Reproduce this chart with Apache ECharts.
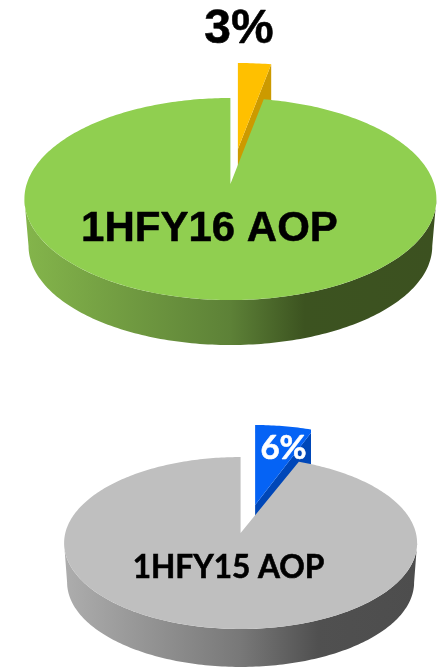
<!DOCTYPE html>
<html>
<head>
<meta charset="utf-8">
<style>html,body{margin:0;padding:0;background:#fff}#chart{width:442px;height:668px}</style>
<script src="https://cdn.jsdelivr.net/npm/echarts@6/dist/echarts.min.js"></script>
</head>
<body>
<div id="chart"></div>
<script>
// --- data ---
const periods = ['1HFY16 AOP', '1HFY15 AOP'];
const highlightShare = [3, 6];
const remainderShare = [97, 94];

// --- layout and style of each 3D pie (projective view of a tilted disc) ---
const pieViews = [
  { cx: 230.4, cy: 184, a: 203.7, b: 98.8, k: 0.1486, depthScale: 0.98, depthY: 47.3,
    offset: [7.5, -35], apexDrop: 0, clipRight: 442, top: '#90cf50',
    wallStops: [[0, '#84b54b'], [0.5, '#5d8137'], [0.68, '#3c5320'], [1, '#3c5120']],
    hiTop: '#ffc000', hiWall: '#cc9a00',
    label: { x: 209.5, y: 229, stroke: 0.5, font: 'bold 42px "Liberation Sans"' },
    hiLabel: { x: 239, y: 29.5, fill: '#000', stroke: 0.5, font: 'bold 48px "Liberation Sans"' } },
  { cx: 240.6, cy: 533, a: 175.3, b: 84.8, k: 0.1163, depthScale: 0.983, depthY: 39.6,
    offset: [14.5, -32], apexDrop: 4, clipRight: 311, top: '#bfbfbf',
    wallStops: [[0, '#adadad'], [0.5, '#787878'], [0.72, '#505050'], [1, '#4d4d4d']],
    hiTop: '#0563f5', hiWall: '#0047b8',
    label: { x: 228.5, y: 568, stroke: 0.6, font: 'bold 31.6px Lato' },
    hiLabel: { x: 283.5, y: 448, fill: '#fff', stroke: 0.6, font: 'bold 33px Lato' } }
];

const STEPS = 360;
function project(v, theta, level, shift) {
  const u = Math.sin(theta), w = Math.cos(theta), d = 1 + v.k * w;
  const s = level ? v.depthScale : 1;
  const ox = shift ? shift[0] : 0, oy = shift ? shift[1] : 0;
  return [v.cx + ox + s * v.a * u / d, v.cy + oy + (level ? v.depthY : 0) - s * v.b * w / d];
}
function arc(v, from, to, level, shift) {
  const n = Math.max(2, Math.ceil(Math.abs(to - from) / (2 * Math.PI) * STEPS));
  const pts = [];
  for (let i = 0; i <= n; i++) pts.push(project(v, from + (to - from) * i / n, level, shift));
  return pts;
}
function poly(points, fill) {
  return { type: 'polygon', shape: { points }, style: { fill, stroke: null } };
}
function label(text, cfg, fill) {
  return { type: 'text', style: { text, x: cfg.x, y: cfg.y, fill, stroke: fill, lineWidth: cfg.stroke,
    font: cfg.font, align: 'center', verticalAlign: 'middle' } };
}

function renderPie(params, api) {
  const v = pieViews[params.dataIndex];
  const hi = api.value(0), rest = api.value(1);
  const split = 2 * Math.PI * hi / (hi + rest);
  const off = v.offset;
  const apex = [v.cx + off[0], v.cy + off[1] + v.apexDrop];
  const apexLow = [apex[0], apex[1] + v.depthY];
  const cornerTop = project(v, split, 0, off);
  const cornerLow = [cornerTop[0], cornerTop[1] + v.depthY];
  const widest = Math.acos(-v.k);
  const wallPts = arc(v, widest, 2 * Math.PI - widest, 0)
    .concat(arc(v, 2 * Math.PI - widest, widest, 1));
  const stops = v.wallStops.map(s => ({ offset: s[0], color: s[1] }));
  const children = [
    { type: 'group',
      clipPath: { type: 'rect', shape: { x: 0, y: 0, width: v.clipRight, height: 668 } },
      children: [
        poly([apex, cornerTop, cornerLow, apexLow], v.hiWall),
        poly([apex].concat(arc(v, 0, split, 0, off)), v.hiTop)
      ] },
    poly(wallPts, new echarts.graphic.LinearGradient(0, 0, 1, 0, stops)),
    poly([[v.cx, v.cy]].concat(arc(v, split, 2 * Math.PI, 0)), v.top),
    label(periods[params.dataIndex], v.label, '#000'),
    label(hi + '%', v.hiLabel, v.hiLabel.fill)
  ];
  return { type: 'group', children };
}

const chart = echarts.init(document.getElementById('chart'), null, { renderer: 'canvas' });
chart.setOption({
  animation: false,
  backgroundColor: '#fff',
  series: [{
    type: 'custom',
    coordinateSystem: 'none',
    silent: true,
    renderItem: renderPie,
    data: periods.map((p, i) => ({ name: p, value: [highlightShare[i], remainderShare[i]] }))
  }]
});
</script>
</body>
</html>
